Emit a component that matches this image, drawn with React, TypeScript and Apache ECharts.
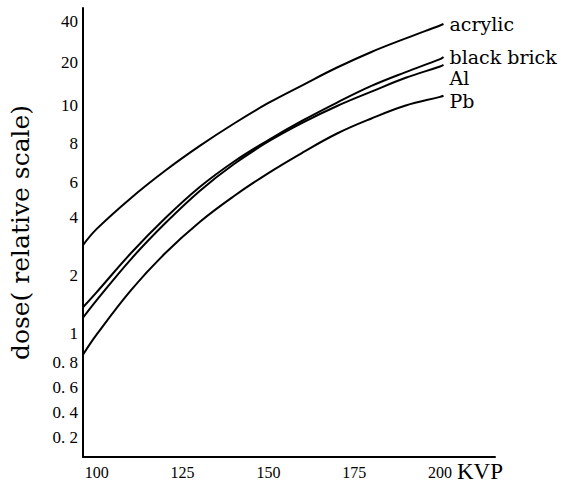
import React, { useEffect, useRef } from "react";
import * as echarts from "echarts";

// kVp sample points along the curves
const KVP = [96, 100, 110, 120, 130, 140, 150, 160, 170, 180, 190, 200, 201];

// dose (relative scale)
const ACRYLIC = [2.86, 3.47, 4.99, 6.53, 7.83, 8.97, 10.33, 13.8, 18.3, 23.7, 29.8, 37.1, 38.0];
const BLACK_BRICK = [1.36, 1.63, 2.6, 3.95, 5.66, 6.98, 8.14, 9.13, 10.4, 13.6, 17.0, 21.0, 21.8];
const AL = [1.2, 1.48, 2.42, 3.72, 5.41, 6.85, 8.07, 9.02, 9.94, 12.4, 15.5, 18.6, 19.1];
const PB = [0.85, 0.99, 1.67, 2.6, 3.77, 5.1, 6.41, 7.46, 8.46, 9.24, 9.97, 11.4, 11.6];

// hand-drawn dose scale: tick values and their place on the axis (axis units)
const DOSE_TICKS = [0.2, 0.4, 0.6, 0.8, 1, 2, 4, 6, 8, 10, 20, 40];
const DOSE_TICK_LABELS = ["0. 2", "0. 4", "0. 6", "0. 8", "1", "2", "4", "6", "8", "10", "20", "40"];
const TICK_POS = [1, 2, 3, 4, 5.16, 7.48, 9.8, 11.2, 12.76, 14.28, 16, 17.64];

const X_TICKS = [100, 125, 150, 175, 200];

function doseToPos(d: number): number {
  let i = 0;
  while (i < DOSE_TICKS.length - 2 && d > DOSE_TICKS[i + 1]) i++;
  const lo = DOSE_TICKS[i];
  const hi = DOSE_TICKS[i + 1];
  const t = lo >= 1 ? Math.log(d / lo) / Math.log(hi / lo) : (d - lo) / (hi - lo);
  return TICK_POS[i] + t * (TICK_POS[i + 1] - TICK_POS[i]);
}

const SERIES = [
  { name: "acrylic", data: ACRYLIC, offset: [0, 0] },
  { name: "black brick", data: BLACK_BRICK, offset: [0, 0] },
  { name: "Al", data: AL, offset: [0, 13] },
  { name: "Pb", data: PB, offset: [0, 5] },
];

export default function App() {
  const ref = useRef<HTMLDivElement>(null);
  useEffect(() => {
    if (!ref.current) return;
    const chart = echarts.init(ref.current, null, { renderer: "svg" });
    const serif = "Liberation Serif";
    chart.setOption({
      animation: false,
      backgroundColor: "#ffffff",
      grid: { left: 77, top: 8, right: 69, bottom: 26, containLabel: false },
      xAxis: {
        type: "value",
        min: 96,
        max: 216,
        axisLine: { show: true, lineStyle: { color: "#000", width: 2 } },
        axisTick: { show: false },
        splitLine: { show: false },
        axisLabel: {
          customValues: X_TICKS,
          color: "#000",
          fontFamily: serif,
          fontSize: 16,
          margin: 7,
        },
      },
      yAxis: {
        type: "value",
        min: 0.2,
        max: 18.16,
        name: "dose( relative scale)",
        nameLocation: "middle",
        nameGap: 50,
        nameTextStyle: { color: "#000", fontFamily: "DejaVu Serif", fontSize: 25 },
        axisLine: { show: true, lineStyle: { color: "#000", width: 2 } },
        axisTick: { show: false },
        splitLine: { show: false },
        axisLabel: {
          customValues: TICK_POS,
          color: "#000",
          fontFamily: serif,
          fontSize: 17,
          margin: 5,
          formatter: (v: number) => {
            let best = 0;
            for (let i = 0; i < TICK_POS.length; i++) {
              if (Math.abs(TICK_POS[i] - v) < Math.abs(TICK_POS[best] - v)) best = i;
            }
            return DOSE_TICK_LABELS[best];
          },
        },
      },
      graphic: [
        {
          type: "text",
          left: 457,
          top: 460,
          style: { text: "KVP", fill: "#000", font: `23px "${serif}"` },
        },
      ],
      series: SERIES.map((s) => ({
        name: s.name,
        type: "line",
        smooth: 0.4,
        showSymbol: false,
        silent: true,
        lineStyle: { color: "#000", width: 2 },
        data: KVP.map((k, i) => [k, doseToPos(s.data[i])]),
        endLabel: {
          show: true,
          formatter: s.name,
          color: "#000",
          fontFamily: "DejaVu Serif",
          fontSize: 19,
          distance: 6,
          offset: s.offset,
        },
      })),
    });
    return () => chart.dispose();
  }, []);
  return (
    <div
      ref={ref}
      style={{ position: "fixed", left: 0, top: 0, width: 564, height: 483, background: "#fff" }}
    />
  );
}
